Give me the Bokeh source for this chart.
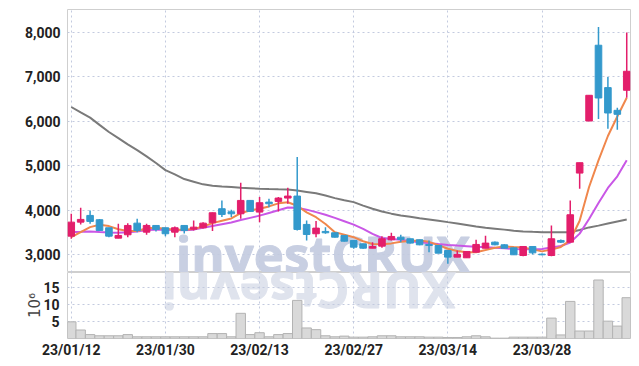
import numpy as np
from bokeh.plotting import figure
from bokeh.layouts import column
from bokeh.models import Range1d, FixedTicker, NumeralTickFormatter, Grid, ColumnDataSource
from bokeh.core.properties import value
from bokeh.embed import file_html
from bokeh.resources import INLINE

# ---------------- data ----------------
dates = ["23/01/12", "23/01/13", "23/01/16", "23/01/17", "23/01/18", "23/01/19", "23/01/20",
         "23/01/25", "23/01/26", "23/01/27", "23/01/30", "23/01/31",
         "23/02/01", "23/02/02", "23/02/03", "23/02/06", "23/02/07", "23/02/08", "23/02/09",
         "23/02/10", "23/02/13", "23/02/14", "23/02/15", "23/02/16", "23/02/17", "23/02/20",
         "23/02/21", "23/02/22", "23/02/23", "23/02/24", "23/02/27", "23/02/28",
         "23/03/02", "23/03/03", "23/03/06", "23/03/07", "23/03/08", "23/03/09", "23/03/10",
         "23/03/13", "23/03/14", "23/03/15", "23/03/16", "23/03/17", "23/03/20", "23/03/21",
         "23/03/22", "23/03/23", "23/03/24", "23/03/27", "23/03/28", "23/03/29", "23/03/30",
         "23/03/31", "23/04/03", "23/04/04", "23/04/05", "23/04/06", "23/04/07", "23/04/10"]

opens = [3413, 3729, 3880, 3783, 3602, 3368, 3444, 3706, 3503, 3654,
         3602, 3503, 3654, 3571, 3602, 3715, 4031, 3962, 3917, 4218,
         3955, 4180, 4196, 4271, 4316, 3677, 3467, 3519, 3489, 3429,
         3316, 3241, 3142, 3188, 3331, 3390, 3354, 3331, 3226, 3203,
         3090, 2940, 2925, 3052, 3142, 3278, 3218, 3150, 2977, 3180,
         3008, 2977, 3316, 3278, 4834, 6007, 7715, 6760, 6248, 6700]
highs = [3918, 4053, 3992, 3800, 3602, 3692, 3706, 3805, 3692, 3654,
         3602, 3632, 3654, 3767, 3729, 3945, 4218, 4008, 4617, 4218,
         4293, 4257, 4293, 4504, 5195, 3767, 3752, 3616, 3489, 3429,
         3316, 3241, 3278, 3413, 3489, 3444, 3354, 3331, 3316, 3203,
         3090, 3090, 3068, 3331, 3420, 3290, 3230, 3150, 3180, 3180,
         3020, 3654, 3340, 4218, 5068, 6587, 8128, 7000, 6308, 8000]
lows = [3354, 3677, 3692, 3530, 3390, 3368, 3390, 3503, 3443, 3519,
        3413, 3390, 3473, 3541, 3586, 3530, 3842, 3842, 3805, 3960,
        3729, 4067, 3970, 4143, 3541, 3316, 3390, 3467, 3380, 3290,
        3128, 3130, 3142, 3150, 3316, 3278, 3250, 3210, 3052, 3025,
        2790, 2940, 2925, 3052, 3142, 3210, 3140, 2993, 2960, 3000,
        2985, 2960, 3260, 3278, 4481, 6007, 6052, 5835, 5812, 6534]
closes = [3729, 3790, 3745, 3541, 3413, 3429, 3654, 3541, 3654, 3564,
          3467, 3602, 3541, 3616, 3706, 3940, 3902, 3917, 4218, 3970,
          4166, 4143, 4271, 4316, 3564, 3451, 3594, 3489, 3390, 3300,
          3165, 3142, 3180, 3354, 3406, 3339, 3256, 3218, 3203, 3030,
          2940, 3000, 3068, 3226, 3256, 3218, 3142, 2993, 3180, 3037,
          2993, 3354, 3278, 3895, 5068, 6587, 6526, 6188, 6158, 7128]

# volume, millions of shares
volume_m = [4.9, 2.5, 1.15, 0.8, 0.8, 0.8, 1.15, 0.5, 0.5, 0.5,
            0.5, 0.5, 0.5, 0.5, 0.5, 1.45, 1.45, 0.5, 7.4, 1.15,
            1.7, 0.5, 1.15, 1.45, 11.2, 3.1, 2.6, 0.8, 0.5, 0.7,
            0.4, 0.4, 0.5, 0.8, 0.8, 0.5, 0.5, 0.5, 0.4, 0.4,
            0.3, 0.3, 0.5, 0.8, 0.5, 0.1, 0.1, 0.4, 0.4, 0.4,
            0.4, 6.0, 1.05, 10.9, 2.2, 2.2, 17.2, 5.1, 3.65, 12.0]

ma5 = [3390, 3503, 3616, 3669, 3640, 3570, 3530, 3530, 3590, 3600,
       3580, 3560, 3555, 3575, 3630, 3706, 3760, 3812, 3933, 3990,
       4032, 4083, 4152, 4176, 4098, 3950, 3840, 3688, 3500, 3448,
       3390, 3298, 3238, 3230, 3250, 3285, 3306, 3315, 3285, 3210,
       3130, 3080, 3050, 3052, 3100, 3152, 3180, 3166, 3160, 3115,
       3070, 3110, 3170, 3320, 3760, 4520, 5120, 5670, 6110, 6530]
ma10 = [3503, 3510, 3519, 3505, 3496, 3490, 3500, 3520, 3550, 3556,
        3556, 3550, 3545, 3560, 3600, 3640, 3680, 3720, 3775, 3825,
        3875, 3935, 3995, 4060, 4055, 4010, 3955, 3895, 3825, 3750,
        3672, 3575, 3465, 3372, 3350, 3330, 3300, 3276, 3256, 3234,
        3214, 3200, 3188, 3176, 3162, 3150, 3140, 3125, 3120, 3120,
        3125, 3155, 3190, 3270, 3470, 3800, 4160, 4500, 4760, 5125]
ma60 = [6323, 6200, 6084, 5920, 5760, 5620, 5481, 5350, 5210, 5060,
        4900, 4805, 4700, 4640, 4580, 4550, 4530, 4518, 4505, 4495,
        4481, 4475, 4470, 4466, 4440, 4410, 4380, 4330, 4270, 4220,
        4180, 4100, 4030, 3970, 3920, 3880, 3850, 3815, 3790, 3760,
        3729, 3700, 3665, 3630, 3600, 3580, 3560, 3535, 3520, 3510,
        3503, 3500, 3500, 3503, 3550, 3610, 3650, 3700, 3745, 3790]

tick_dates = ["23/01/12", "23/01/30", "23/02/13", "23/02/27", "23/03/14", "23/03/28"]
price_ticks = [3000, 4000, 5000, 6000, 7000, 8000]
vol_ticks = [5, 10, 15]

# ---------------- styling ----------------
RED = "#e31e6b"
BLUE = "#3399cc"
GRID = "#c3cadf"
FONT = "Roboto"
W = 639
LEFT, RIGHT = 67, 9

idx = list(range(len(dates)))
tick_pos = [dates.index(d) for d in tick_dates]
up = [c >= o for o, c in zip(opens, closes)]
src = ColumnDataSource(dict(
    x=idx, o=opens, h=highs, l=lows, c=closes,
    top=[max(o, c) for o, c in zip(opens, closes)],
    bot=[min(o, c) for o, c in zip(opens, closes)],
    col=[RED if u else BLUE for u in up],
    vol=volume_m, ma5=ma5, ma10=ma10, ma60=ma60,
))

xr = Range1d(-0.4, 59.4)

def style_axis(ax, size="14px"):
    ax.major_label_text_font = FONT
    ax.major_label_text_font_style = "bold"
    ax.major_label_text_font_size = size
    ax.major_label_text_color = "#222222"
    ax.major_tick_line_color = None
    ax.minor_tick_line_color = None
    ax.major_tick_out = 0
    ax.major_tick_in = 0
    ax.minor_tick_out = 0
    ax.minor_tick_in = 0
    ax.axis_line_color = None

def add_grids(p, yticks):
    p.grid.visible = False
    g1 = Grid(dimension=0, ticker=FixedTicker(ticks=tick_pos), grid_line_color=GRID,
              grid_line_dash="2 3", grid_line_width=1)
    g2 = Grid(dimension=1, ticker=FixedTicker(ticks=yticks), grid_line_color=GRID,
              grid_line_dash="2 3", grid_line_width=1)
    p.add_layout(g1)
    p.add_layout(g2)

# ---------------- price panel ----------------
p1 = figure(width=W, height=272, x_range=xr, y_range=Range1d(2594, 8520),
            output_backend="svg", toolbar_location=None, x_axis_location=None,
            min_border_left=LEFT, min_border_right=RIGHT, min_border_top=9, min_border_bottom=0)
p1.outline_line_color = "#cfcfcf"
p1.background_fill_color = "white"
p1.border_fill_color = "white"
add_grids(p1, price_ticks)
p1.yaxis.ticker = FixedTicker(ticks=price_ticks)
p1.yaxis.formatter = NumeralTickFormatter(format="0,0")
p1.yaxis.major_label_standoff = 7
style_axis(p1.yaxis[0])

# watermark (drawn beneath the grid)
wm = p1.text(x=[11.1], y=[3040], text=["investCRUX"], text_font=value("Open Sans"),
             text_font_style="bold", text_font_size="51px", text_color="#c8cfe2",
             text_outline_color="#c8cfe2",
             text_baseline="middle", text_align="left")
wm.level = "image"

p1.line("x", "ma60", source=src, line_color="#7a7a7a", line_width=2)
p1.line("x", "ma10", source=src, line_color="#c957e6", line_width=2)
p1.line("x", "ma5", source=src, line_color="#f0874c", line_width=2)
p1.segment("x", "h", "x", "l", source=src, line_color="col", line_width=1.5)
p1.vbar(x="x", width=0.7, top="top", bottom="bot", source=src,
        fill_color="col", line_color="col", line_width=1)

# ---------------- volume panel ----------------
p2 = figure(width=W, height=94, x_range=xr, y_range=Range1d(0, 19.4),
            output_backend="svg", toolbar_location=None,
            min_border_left=LEFT, min_border_right=RIGHT, min_border_top=0, min_border_bottom=28)
p2.outline_line_color = "#cfcfcf"
p2.background_fill_color = "white"
p2.border_fill_color = "white"
add_grids(p2, vol_ticks)

# mirrored watermark
wm2 = p2.text(x=[40.85], y=[13.6], text=["XURCtsevni"], text_font=value("Open Sans"),
              text_font_style="bold", text_font_size="51px", text_color="#dfe3ed",
              text_outline_color="#dfe3ed",
              text_baseline="middle", text_align="left", angle=np.pi)
wm2.level = "image"

p2.vbar(x="x", width=1.0, top="vol", bottom=0, source=src,
        fill_color="#d9d9d9", line_color="#b3b3b3", line_width=1)

p2.xaxis.ticker = FixedTicker(ticks=tick_pos)
p2.xaxis.major_label_overrides = {i: d for i, d in zip(tick_pos, tick_dates)}
p2.xaxis.major_label_standoff = 3
style_axis(p2.xaxis[0])
p2.yaxis.ticker = FixedTicker(ticks=vol_ticks)
p2.yaxis.major_label_standoff = 8
style_axis(p2.yaxis[0])
p2.yaxis.axis_label = "10⁶"
p2.yaxis.axis_label_text_font = "DejaVu Sans"
p2.yaxis.axis_label_text_font_style = "normal"
p2.yaxis.axis_label_text_font_size = "15px"
p2.yaxis.axis_label_text_color = "#444444"
p2.yaxis.axis_label_standoff = -4

layout = column(p1, p2, spacing=0)
open("out.html", "w").write(file_html(layout, INLINE))
